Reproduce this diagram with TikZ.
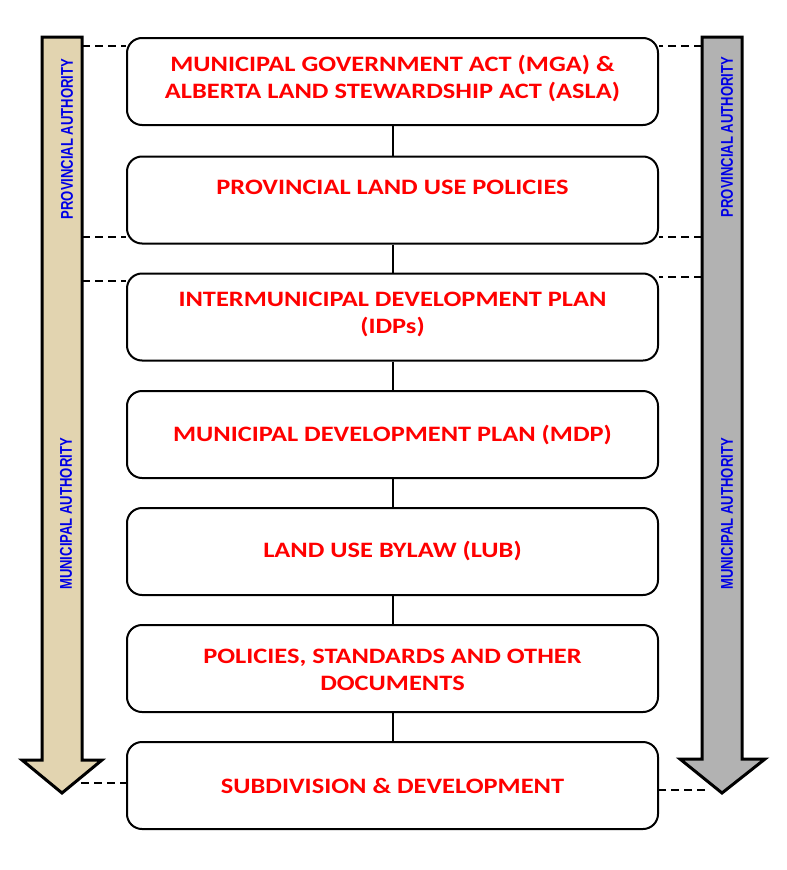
\documentclass[tikz,border=0pt]{standalone}
\usepackage{fontspec}
\setmainfont{Carlito}
\newfontfamily\stagefont[FakeStretch=1.2]{Carlito}
\newfontfamily\authfont[FakeStretch=0.77]{Liberation Sans Bold}
\definecolor{boxred}{RGB}{255,0,0}
\definecolor{authblue}{RGB}{0,0,230}
\definecolor{tanfill}{RGB}{226,212,176}
\definecolor{grayfill}{RGB}{178,178,178}
\begin{document}
\begin{tikzpicture}[x=1pt,y=-1pt,
  stagebox/.style={draw, line width=2pt, rounded corners=15pt, minimum width=531pt, minimum height=87pt, inner sep=0pt},
  stagetext/.style={text=boxred, font=\stagefont\bfseries\fontsize{22}{27}\selectfont, align=center, inner sep=0pt},
  authtext/.style={text=authblue, font=\authfont\fontsize{17}{17}\selectfont, rotate=90, inner sep=0pt},
  bigarrow/.style={draw, line width=3pt, line join=miter},
  link/.style={line width=2pt},
  guide/.style={line width=1.5pt, dash pattern=on 8pt off 5pt}]
\useasboundingbox (0,0) rectangle (787,870);
% arrows
\draw[bigarrow, fill=tanfill] (42,37) -- (82,37) -- (82,760) -- (102,760) -- (62,793) -- (22,760) -- (42,760) -- cycle;
\draw[bigarrow, fill=grayfill] (702,37) -- (742,37) -- (742,759) -- (765,759) -- (722,793) -- (680,759) -- (702,759) -- cycle;
\node[authtext] (lp) at (67,139) {PROVINCIAL AUTHORITY};
\node[authtext] (lm) at (66,514) {MUNICIPAL AUTHORITY};
\node[authtext] (rp) at (727,137) {PROVINCIAL AUTHORITY};
\node[authtext] (rm) at (727,514) {MUNICIPAL AUTHORITY};
% boxes
\node[stagebox] (b1) at (392.5,81.5) {};
\node[stagebox] (b2) at (392.5,200) {};
\node[stagebox] (b3) at (392.5,317) {};
\node[stagebox] (b4) at (392.5,434.5) {};
\node[stagebox] (b5) at (392.5,551.5) {};
\node[stagebox] (b6) at (392.5,668.5) {};
\node[stagebox] (b7) at (392.5,785.5) {};
\node[stagetext] (t1) at (392.5,79) {MUNICIPAL GOVERNMENT ACT (MGA) \&\\ALBERTA LAND STEWARDSHIP ACT (ASLA)};
\node[stagetext] (t2) at (392.5,187) {PROVINCIAL LAND USE POLICIES};
\node[stagetext] (t3) at (392.5,314.5) {INTERMUNICIPAL DEVELOPMENT PLAN\\(IDPs)};
\node[stagetext] (t4) at (392.5,435) {MUNICIPAL DEVELOPMENT PLAN (MDP)};
\node[stagetext] (t5) at (392.5,551) {LAND USE BYLAW (LUB)};
\node[stagetext] (t6) at (392.5,669.5) {POLICIES, STANDARDS AND OTHER\\DOCUMENTS};
\node[stagetext] (t7) at (392.5,786) {SUBDIVISION \& DEVELOPMENT};
% links
\foreach \a/\b in {b1/b2,b2/b3,b3/b4,b4/b5,b5/b6,b6/b7} \draw[link] (\a) -- (\b);
% dashed guides
\coordinate (lA) at (82,46); \coordinate (rA) at (702,46);
\coordinate (lB) at (82,237); \coordinate (rB) at (702,237);
\coordinate (lC) at (82,281); \coordinate (rC) at (702,277);
\coordinate (lD) at (81,783); \coordinate (rD) at (705,790);
\draw[guide] (lA) -- (lA -| b1.west);
\draw[guide] (rA) -- (rA -| b1.east);
\draw[guide] (lB) -- (lB -| b2.west);
\draw[guide] (rB) -- (rB -| b2.east);
\draw[guide] (lC) -- (lC -| b3.west);
\draw[guide] (rC) -- (rC -| b3.east);
\draw[guide] (lD) -- (lD -| b7.west);
\draw[guide] (rD) -- (rD -| b7.east);
\end{tikzpicture}
\end{document}
